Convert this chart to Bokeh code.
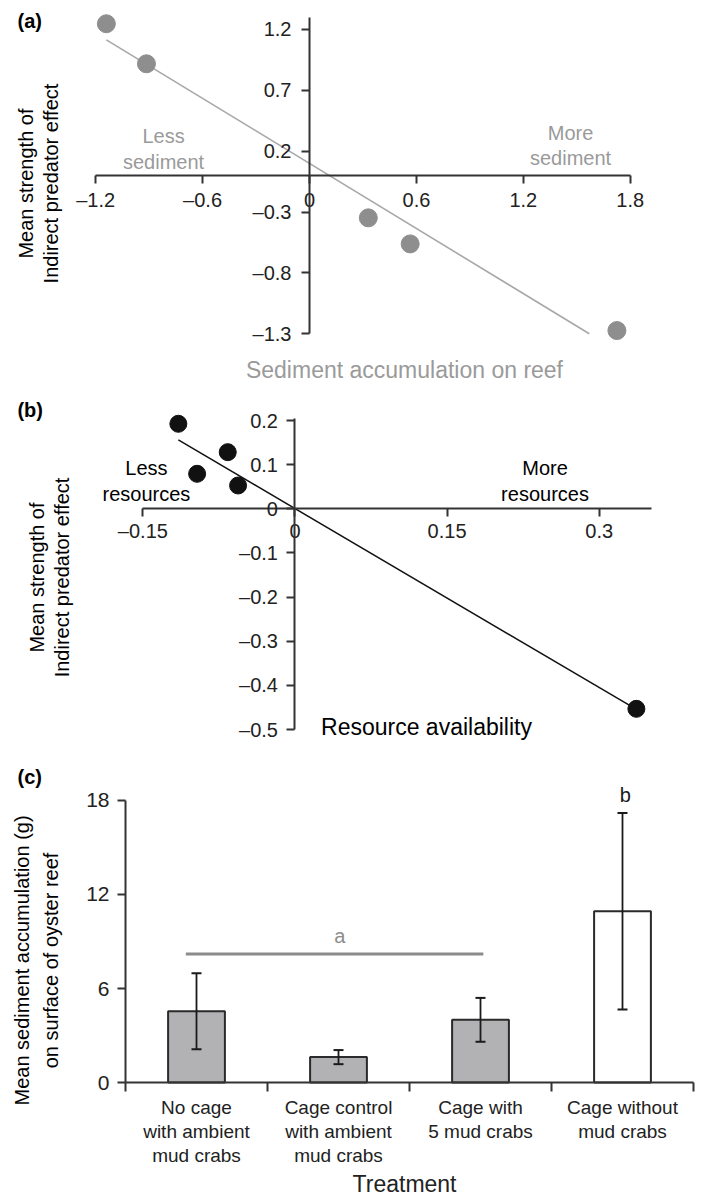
import math
from bokeh.plotting import figure
from bokeh.models import (LinearAxis, FixedTicker, CustomJSTickFormatter, Range1d,
                          ColumnDataSource, Whisker, TeeHead)
from bokeh.layouts import column
from bokeh.embed import file_html
from bokeh.resources import INLINE
from bokeh.core.properties import value

# ---------------- data ----------------
# (a) sediment accumulation vs indirect predator effect
sediment_acc = [-1.14, -0.915, 0.33, 0.565, 1.725]
predator_effect_a = [1.247, 0.918, -0.348, -0.562, -1.274]
fit_a_x = [-1.14, 1.57]
fit_a_y = [1.115, -1.30]
ticks_a_x = [-1.2, -0.6, 0, 0.6, 1.2, 1.8]
ticks_a_y = [1.2, 0.7, 0.2, -0.3, -0.8, -1.3]

# (b) resource availability vs indirect predator effect
resource_avail = [-0.115, -0.0965, -0.0663, -0.0561, 0.3367]
predator_effect_b = [0.1926, 0.0793, 0.1283, 0.0528, -0.4531]
fit_b_x = [-0.115, 0.333]
fit_b_y = [0.156, -0.4495]
ticks_b_x = [-0.15, 0, 0.15, 0.3]
ticks_b_y = [0.2, 0.1, 0, -0.1, -0.2, -0.3, -0.4, -0.5]

# (c) sediment accumulation by treatment
treatments = ["No cage\nwith ambient\nmud crabs",
              "Cage control\nwith ambient\nmud crabs",
              "Cage with\n5 mud crabs",
              "Cage without\nmud crabs"]
sediment_mean = [4.55, 1.62, 4.0, 10.93]
sediment_se = [2.43, 0.45, 1.40, 6.27]
group_letters = ["a", "a", "a", "b"]
sig_a_span = [0.425, 2.52]
sig_a_level = 8.21
ticks_c_y = [0, 6, 12, 18]

# ---------------- style ----------------
FONT = "Liberation Sans"
AXC = "#333333"
LABC = "#222222"
GRAY_PT = "#8e8e8e"
GRAY_LN = "#a8a8a8"
GRAY_TX = "#9a9a9a"
W = 702


def dash_formatter():
    return CustomJSTickFormatter(
        code="return tick < 0 ? '\u2013' + String(-tick) : String(tick);")


def style_axis(ax, size, standoff):
    ax.axis_line_color = AXC
    ax.axis_line_width = 2
    ax.major_tick_line_color = AXC
    ax.major_tick_line_width = 2
    ax.major_tick_in = 0
    ax.major_tick_out = 8
    ax.minor_tick_line_color = None
    ax.major_label_text_font = FONT
    ax.major_label_text_font_size = f"{size}px"
    ax.major_label_text_color = LABC
    ax.major_label_standoff = standoff


def base_fig(h, xr, yr):
    p = figure(width=W, height=h, x_range=Range1d(*xr), y_range=Range1d(*yr),
               x_axis_location=None, y_axis_location=None,
               toolbar_location=None, output_backend="svg", min_border=0,
               title=None)
    p.outline_line_color = None
    p.grid.visible = False
    p.background_fill_color = "white"
    return p


def txt(p, x, y, s, size, color="black", align="center", angle=0.0,
        bold=False, lh=1.15):
    p.text(x=[x], y=[y], text=[s], text_align=align, text_baseline="middle",
           text_font=value(FONT), text_font_size=f"{size}px",
           text_color=color, angle=angle, text_line_height=lh,
           text_font_style="bold" if bold else "normal")


# ---------------- panel (a) ----------------
pa = base_fig(390, (-1.7340, 2.2054), (-1.7666, 1.4380))
xa = LinearAxis(fixed_location=0, bounds=(min(ticks_a_x), max(ticks_a_x)),
                ticker=FixedTicker(ticks=ticks_a_x), formatter=dash_formatter())
style_axis(xa, 20, 5)
pa.add_layout(xa, "below")
ya = LinearAxis(fixed_location=0, bounds=(-1.3, 1.3),
                ticker=FixedTicker(ticks=ticks_a_y), formatter=dash_formatter())
style_axis(ya, 20, 10)
pa.add_layout(ya, "left")

pa.line(fit_a_x, fit_a_y, line_color=GRAY_LN, line_width=1.6)
pa.scatter(sediment_acc, predator_effect_a, size=18, fill_color=GRAY_PT,
           line_color=GRAY_PT)
txt(pa, -0.819, 0.218, "Less\nsediment", 20, GRAY_TX)
txt(pa, 1.465, 0.2465, "More\nsediment", 20, GRAY_TX)
txt(pa, 0.533, -1.602, "Sediment accumulation on reef", 23, GRAY_TX)
txt(pa, -1.520, -0.066, "Mean strength of\nIndirect predator effect", 20,
    angle=math.pi / 2)
txt(pa, -1.6386, 1.2736, "(a)", 20, align="left", bold=True)

# ---------------- panel (b) ----------------
pb = base_fig(355, (-0.2904, 0.4019), (-0.5362, 0.2680))
xb = LinearAxis(fixed_location=0, bounds=(-0.15, 0.352),
                ticker=FixedTicker(ticks=ticks_b_x), formatter=dash_formatter())
style_axis(xb, 20, 3)
pb.add_layout(xb, "below")
yb = LinearAxis(fixed_location=0, bounds=(-0.5, 0.205),
                ticker=FixedTicker(ticks=ticks_b_y), formatter=dash_formatter())
style_axis(yb, 20, 9)
pb.add_layout(yb, "left")

pb.line(fit_b_x, fit_b_y, line_color="#111111", line_width=1.5)
pb.scatter(resource_avail, predator_effect_b, size=17, fill_color="#111111",
           line_color="#111111")
txt(pb, -0.1465, 0.063, "Less\nresources", 20)
txt(pb, 0.2466, 0.063, "More\nresources", 20)
txt(pb, 0.1297, -0.4948, "Resource availability", 23)
txt(pb, -0.2420, -0.1556, "Mean strength of\nIndirect predator effect", 20,
    angle=math.pi / 2)
txt(pb, -0.2737, 0.2227, "(b)", 20, align="left", bold=True)

# ---------------- panel (c) ----------------
pc = base_fig(451, (-0.8803, 4.0634), (-7.276, 21.51))
n = len(treatments)
xc = LinearAxis(fixed_location=0, bounds=(0, n),
                ticker=FixedTicker(ticks=[i + 0.5 for i in range(n)],
                                   minor_ticks=list(range(n + 1))),
                formatter=CustomJSTickFormatter(args=dict(labels=treatments),
                                                code="return labels[Math.floor(tick)];"))
style_axis(xc, 19, 5)
xc.major_tick_out = 0
xc.minor_tick_line_color = AXC
xc.minor_tick_line_width = 2
xc.minor_tick_in = 0
xc.minor_tick_out = 9
xc.major_label_text_line_height = 1.15
pc.add_layout(xc, "below")
yc = LinearAxis(fixed_location=0, bounds=(0, 18),
                ticker=FixedTicker(ticks=ticks_c_y))
style_axis(yc, 21, 8)
pc.add_layout(yc, "left")

xpos = [i + 0.5 for i in range(n)]
fills = ["#ffffff" if g == "b" else "#b2b2b4" for g in group_letters]
src = ColumnDataSource(dict(
    x=xpos, top=sediment_mean, fill=fills,
    upper=[m + s for m, s in zip(sediment_mean, sediment_se)],
    lower=[m - s for m, s in zip(sediment_mean, sediment_se)]))
pc.vbar(x="x", top="top", bottom=0, width=0.4, fill_color="fill",
        line_color="#2a2a2a", line_width=2, source=src)
pc.add_layout(Whisker(base="x", upper="upper", lower="lower", source=src,
                      level="overlay",
                      line_color="#1a1a1a", line_width=1.8,
                      upper_head=TeeHead(size=10, line_width=2, line_color="#1a1a1a"),
                      lower_head=TeeHead(size=10, line_width=2, line_color="#1a1a1a")))
pc.line(sig_a_span, [sig_a_level, sig_a_level], line_color="#8c8c8c", line_width=3)
txt(pc, 1.51, 9.38, "a", 20, "#8c8c8c")
txt(pc, 3.52, 18.32, "b", 20, "#1a1a1a")
txt(pc, -0.627, 7.79, "Mean sediment accumulation (g)\non surface of oyster reef", 20,
    angle=math.pi / 2, lh=1.3)
txt(pc, 1.965, -6.447, "Treatment", 23, LABC)
txt(pc, -0.7606, 19.53, "(c)", 20, align="left", bold=True)

layout = column(pa, pb, pc, spacing=0)
open("out.html", "w").write(file_html(layout, INLINE))
